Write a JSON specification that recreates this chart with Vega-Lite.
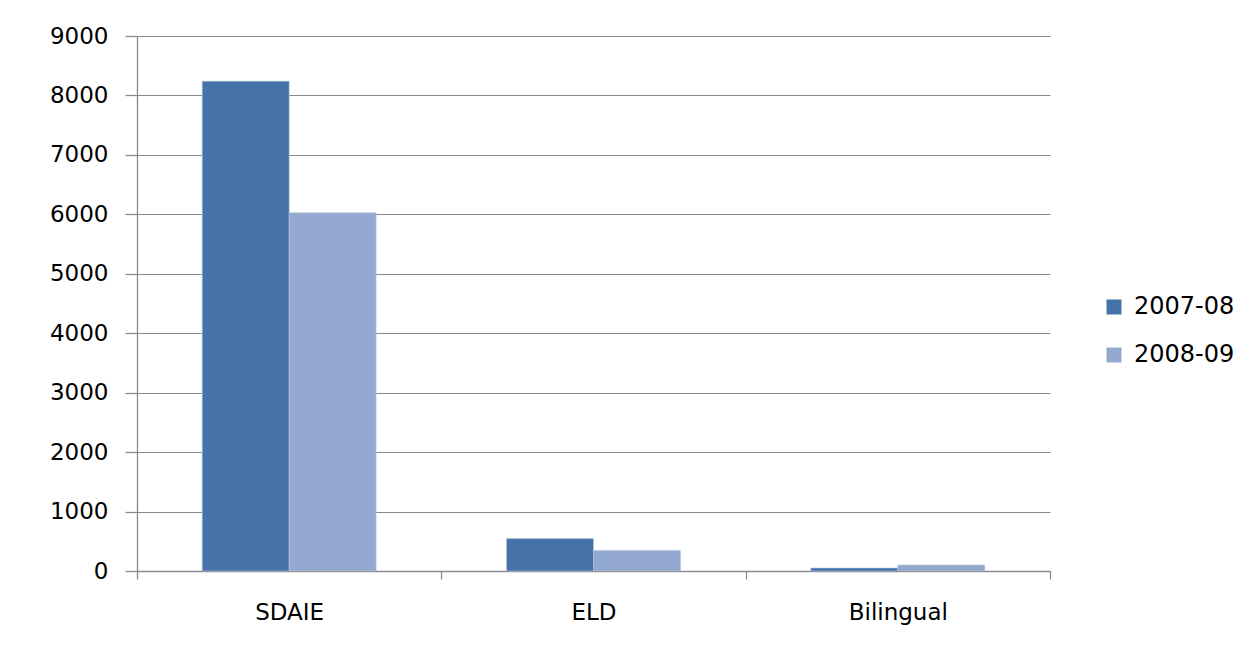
{
  "$schema": "https://vega.github.io/schema/vega-lite/v6.json",
  "autosize": {"type": "none"},
  "padding": {"left": 137, "top": 36, "right": 208, "bottom": 84},
  "width": 913,
  "height": 535,
  "background": "white",
  "config": {
    "view": {"stroke": null},
    "font": "DejaVu Sans",
    "axis": {"labelFont": "DejaVu Sans", "labelColor": "#000000", "domainColor": "#8a8a8a", "tickColor": "#8a8a8a", "gridColor": "#8a8a8a", "domainWidth": 1.3, "tickWidth": 1.3, "gridWidth": 1.1}
  },
  "data": {
    "values": [
      {"program": "SDAIE", "year": "2007-08", "value": 8240},
      {"program": "SDAIE", "year": "2008-09", "value": 6025},
      {"program": "ELD", "year": "2007-08", "value": 545},
      {"program": "ELD", "year": "2008-09", "value": 345},
      {"program": "Bilingual", "year": "2007-08", "value": 50},
      {"program": "Bilingual", "year": "2008-09", "value": 100}
    ]
  },
  "mark": {"type": "bar", "stroke": "#b4c3e0", "strokeWidth": 0.6},
  "encoding": {
    "x": {
      "field": "program", "type": "nominal", "sort": ["SDAIE", "ELD", "Bilingual"],
      "scale": {"paddingInner": 0, "paddingOuter": 0},
      "axis": {"title": null, "labelAngle": 0, "labelFontSize": 23, "labelPadding": 22, "tickBand": "extent", "tickSize": 8, "grid": false}
    },
    "xOffset": {"field": "year", "type": "nominal", "scale": {"paddingInner": 0, "paddingOuter": 0.75}},
    "y": {
      "field": "value", "type": "quantitative",
      "scale": {"domain": [0, 9000], "nice": false},
      "axis": {"title": null, "format": "d", "values": [0, 1000, 2000, 3000, 4000, 5000, 6000, 7000, 8000, 9000], "labelFontSize": 23, "tickSize": 12, "labelPadding": 17, "grid": true}
    },
    "color": {
      "field": "year", "type": "nominal",
      "scale": {"domain": ["2007-08", "2008-09"], "range": ["#4572A7", "#93A9CF"]},
      "legend": {"title": null, "orient": "none", "legendX": 965, "legendY": 259, "symbolType": "square", "symbolSize": 225, "symbolStrokeWidth": 0, "labelFontSize": 24, "labelFont": "DejaVu Sans", "labelColor": "#000000", "rowPadding": 24, "labelOffset": 8}
    }
  }
}
